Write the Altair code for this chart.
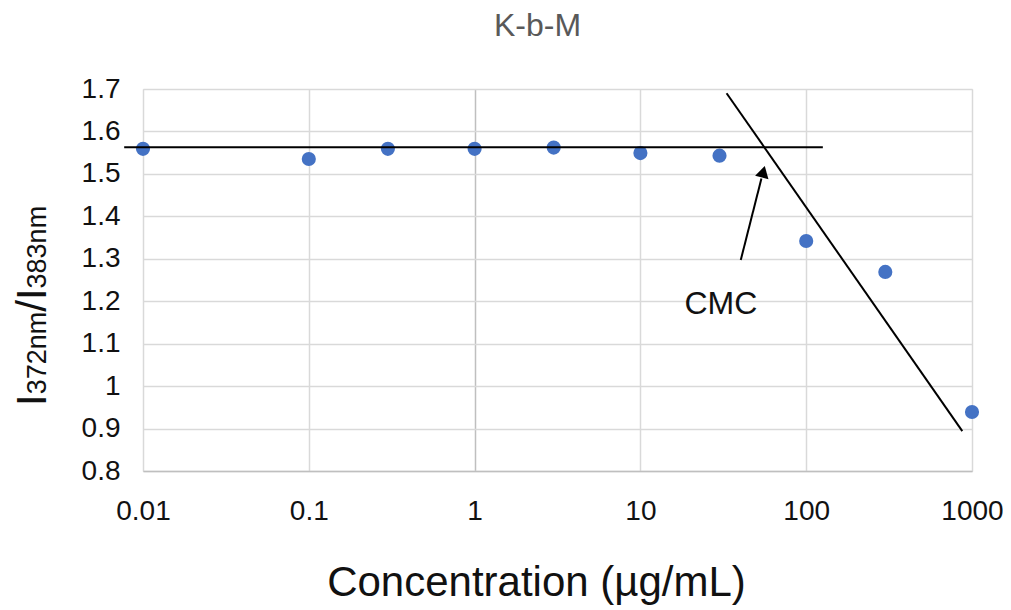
import altair as alt
import pandas as pd

FONT = "Liberation Sans"

# Data
conc = [0.01, 0.1, 0.3, 1, 3, 10, 30, 100, 300, 1000]
ratio = [1.559, 1.535, 1.559, 1.559, 1.562, 1.549, 1.543, 1.342, 1.269, 0.939]

# Annotation lines (data coordinates)
plateau_x = [0.0077, 126]
plateau_y = [1.563, 1.563]
slope_x = [33.1, 874]
slope_y = [1.690, 0.894]
arrow_x = [40.3, 53.7]
arrow_y = [1.297, 1.489]
head_x = [55.1]
head_y = [1.505]
cmc_x = [30.6]
cmc_y = [1.193]
cmc_label = ["CMC"]

x_ticks = [0.01, 0.1, 1, 10, 100, 1000]
y_ticks = [0.8, 0.9, 1.0, 1.1, 1.2, 1.3, 1.4, 1.5, 1.6, 1.7]

title_text = "K-b-M"
x_title = "Concentration (µg/mL)"
y_title_parts = ["I", "372nm", "/", "I", "383nm"]
y_title_big = [True, False, True, True, False]

W, H = 829, 382
xs = alt.Scale(type="log", domain=[0.01, 1000], nice=False)
ys = alt.Scale(domain=[0.8, 1.7], nice=False, zero=False)

pts = pd.DataFrame({"c": conc, "r": ratio})

points = alt.Chart(pts).mark_circle(size=200, color="#4472C4", opacity=1).encode(
    x=alt.X("c:Q", scale=xs, axis=alt.Axis(
        values=x_ticks, format="~g", title=x_title,
        labelFont=FONT, labelFontSize=28, labelColor="#111111", labelPadding=26,
        labelFlush=False,
        ticks=False, domain=True, domainColor="#bfbfbf", domainWidth=1.5,
        grid=True, gridWidth=1.5,
        gridColor={"expr": "datum.value == 1 ? '#bfbfbf' : '#d9d9d9'"},
        titleFont=FONT, titleFontSize=42, titleFontWeight="normal", titleColor="#111111",
        titleX=393, titleY=124, titleAlign="center", titleBaseline="alphabetic",
    )),
    y=alt.Y("r:Q", scale=ys, axis=alt.Axis(
        values=y_ticks, format="~g", title=None,
        labelFont=FONT, labelFontSize=28, labelColor="#111111", labelPadding=23,
        labelFlush=False,
        ticks=False, domain=False, grid=True, gridColor="#d9d9d9", gridWidth=1.5,
    )),
)

def line_layer(xv, yv):
    df = pd.DataFrame({"c": xv, "r": yv, "o": list(range(len(xv)))})
    return alt.Chart(df).mark_line(color="black", strokeWidth=2, clip=False).encode(
        x=alt.X("c:Q", scale=xs),
        y=alt.Y("r:Q", scale=ys),
        order="o:O",
    )

plateau = line_layer(plateau_x, plateau_y)
slope = line_layer(slope_x, slope_y)
arrow = line_layer(arrow_x, arrow_y)

head = alt.Chart(pd.DataFrame({"c": head_x, "r": head_y})).mark_point(
    shape="triangle-up", filled=True, color="black", opacity=1, size=190, angle=14.5
).encode(
    x=alt.X("c:Q", scale=xs),
    y=alt.Y("r:Q", scale=ys),
)

cmc = alt.Chart(pd.DataFrame({"c": cmc_x, "r": cmc_y, "t": cmc_label})).mark_text(
    font=FONT, fontSize=32, color="#111111", align="center", baseline="middle"
).encode(
    x=alt.X("c:Q", scale=xs),
    y=alt.Y("r:Q", scale=ys),
    text="t:N",
)

# Y-axis title with subscripts, built from pieces (rotated text)
BIG, SMALL = 42, 27
def est_width(s, size):
    w = {"I": 0.278, "/": 0.278, "n": 0.556, "m": 0.833}
    return sum(w.get(ch, 0.556) for ch in s) * size

pieces = []
pos = 406 - 89  # start (bottom) in view coordinates
for part, big in zip(y_title_parts, y_title_big):
    size = BIG if big else SMALL
    pieces.append(
        alt.Chart(pd.DataFrame({"t": [part]})).mark_text(
            font=FONT, fontSize=size, color="#111111", angle=270,
            align="left", baseline="alphabetic",
        ).encode(x=alt.value(-97), y=alt.value(pos), text="t:N")
    )
    pos -= est_width(part, size)

chart = alt.layer(points, plateau, slope, arrow, head, cmc, *pieces).properties(
    width=W, height=H,
    autosize=alt.AutoSizeParams(type="none"),
    padding={"left": 135, "top": 81, "right": 31, "bottom": 135},
    title=alt.TitleParams(
        text=title_text, font=FONT, fontSize=32, fontWeight="normal",
        color="#595959", anchor="middle", frame="group", offset=32, dx=-20,
    ),
).configure_view(stroke=None).configure(background="white")

chart.save("out.html", embed_options={"renderer": "svg", "actions": False})
